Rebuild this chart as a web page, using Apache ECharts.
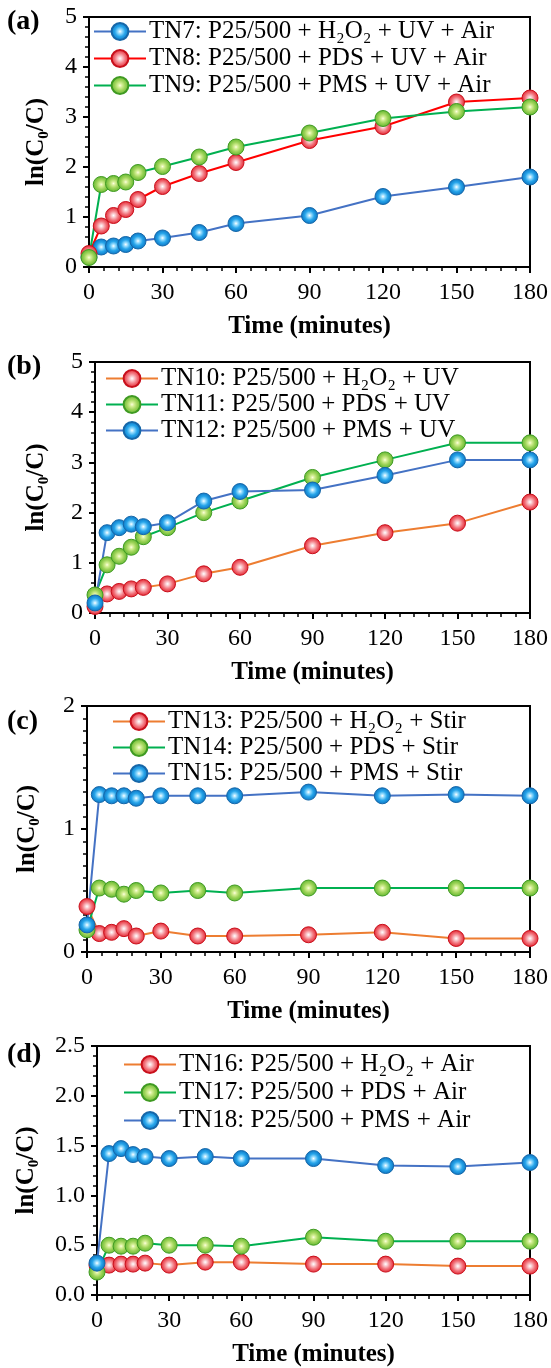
<!DOCTYPE html>
<html><head><meta charset="utf-8">
<script src="https://cdn.jsdelivr.net/npm/echarts@6/dist/echarts.min.js"></script>
<style>html,body{margin:0;padding:0;background:#fff}#c{width:551px;height:1368px}</style>
</head><body><div id="c"></div>
<script>
const times = [0, 5, 10, 15, 20, 30, 45, 60, 90, 120, 150, 180];
// Panel (a)
const tn7 = [0.20, 0.40, 0.42, 0.45, 0.52, 0.58, 0.69, 0.87, 1.03, 1.41, 1.60, 1.80];
const tn8 = [0.27, 0.82, 1.03, 1.15, 1.35, 1.61, 1.87, 2.09, 2.53, 2.81, 3.30, 3.38];
const tn9 = [0.19, 1.65, 1.67, 1.70, 1.89, 2.01, 2.20, 2.40, 2.68, 2.97, 3.11, 3.20];
// Panel (b)
const tn10 = [0.13, 0.38, 0.43, 0.48, 0.51, 0.58, 0.78, 0.91, 1.34, 1.60, 1.79, 2.21];
const tn11 = [0.36, 0.96, 1.13, 1.31, 1.52, 1.70, 2.00, 2.23, 2.70, 3.05, 3.39, 3.39];
const tn12 = [0.20, 1.60, 1.70, 1.77, 1.72, 1.80, 2.23, 2.42, 2.45, 2.74, 3.05, 3.05];
// Panel (c)
const tn13 = [0.37, 0.15, 0.16, 0.19, 0.13, 0.17, 0.13, 0.13, 0.14, 0.16, 0.11, 0.11];
const tn14 = [0.18, 0.52, 0.51, 0.47, 0.50, 0.48, 0.50, 0.48, 0.52, 0.52, 0.52, 0.52];
const tn15 = [0.22, 1.28, 1.27, 1.27, 1.25, 1.27, 1.27, 1.27, 1.30, 1.27, 1.28, 1.27];
// Panel (d)
const tn16 = [0.30, 0.30, 0.31, 0.31, 0.32, 0.30, 0.33, 0.33, 0.31, 0.31, 0.29, 0.29];
const tn17 = [0.23, 0.50, 0.49, 0.49, 0.52, 0.50, 0.50, 0.49, 0.58, 0.54, 0.54, 0.54];
const tn18 = [0.32, 1.42, 1.47, 1.41, 1.39, 1.37, 1.39, 1.37, 1.37, 1.30, 1.29, 1.33];

const namesA = ['TN7: P25/500 + H₂O₂ + UV + Air', 'TN8: P25/500 + PDS + UV + Air', 'TN9: P25/500 + PMS + UV + Air'];
const namesB = ['TN10: P25/500 + H₂O₂ + UV', 'TN11: P25/500 + PDS + UV', 'TN12: P25/500 + PMS + UV'];
const namesC = ['TN13: P25/500 + H₂O₂ + Stir', 'TN14: P25/500 + PDS + Stir', 'TN15: P25/500 + PMS + Stir'];
const namesD = ['TN16: P25/500 + H₂O₂ + Air', 'TN17: P25/500 + PDS + Air', 'TN18: P25/500 + PMS + Air'];
const panelLabels = ['(a)', '(b)', '(c)', '(d)'];
const xTitle = 'Time (minutes)';
const yTitle = 'ln(C₀/C)';

const FONT = '"Liberation Serif", "Times New Roman", serif';
function ball(kind) {
  const s = {
    blue: ['#ffffff', '#9fe0ff', '#27a5ea', '#0a72c0', '#1667a8'],
    red: ['#ffffff', '#fbd0d4', '#f27a82', '#e3202c', '#c8101c'],
    green: ['#fbffe0', '#d8f09a', '#9fd45a', '#5fb52e', '#3f9a22']
  }[kind];
  return {
    color: {type: 'radial', x: 0.5, y: 0.5, r: 0.5, colorStops: [
      {offset: 0, color: s[0]}, {offset: 0.2, color: s[1]}, {offset: 0.55, color: s[2]}, {offset: 1, color: s[3]}]},
    borderColor: s[4], borderWidth: 1
  };
}
const LINE = {blue: '#4472C4', red: '#FF0000', green: '#00B050', orange: '#ED7D31'};

const panels = [
  {top: 17, h: 250, left: 89, ymax: 5, yint: 1, ysplit: 5, dec: 0, gap: 40, names: namesA,
   data: [tn7, tn8, tn9], balls: ['blue', 'red', 'green'], lines: ['blue', 'red', 'green'],
   legLeft: 93, legTop: 19, legGap: 2, lab: [7, 25]},
  {top: 362, h: 251, left: 95, ymax: 5, yint: 1, ysplit: 5, dec: 0, gap: 46, names: namesB,
   data: [tn10, tn11, tn12], balls: ['red', 'green', 'blue'], lines: ['orange', 'green', 'blue'],
   legLeft: 105, legTop: 366, legGap: 1, lab: [7, 370]},
  {top: 706, h: 246, left: 87, ymax: 2, yint: 1, ysplit: 10, dec: 0, gap: 47, names: namesC,
   data: [tn13, tn14, tn15], balls: ['red', 'green', 'blue'], lines: ['orange', 'green', 'blue'],
   legLeft: 112, legTop: 709, legGap: 1, lab: [7, 725]},
  {top: 1046, h: 250, left: 97, ymax: 2.5, yint: 0.5, ysplit: 5, dec: 1, gap: 58, names: namesD,
   data: [tn16, tn17, tn18], balls: ['red', 'green', 'blue'], lines: ['orange', 'green', 'blue'],
   legLeft: 123, legTop: 1052, legGap: 3, lab: [7, 1058]}
];

const grid = [], xAxis = [], yAxis = [], series = [], legend = [], graphic = [];
panels.forEach((p, i) => {
  grid.push({left: p.left, right: 21, top: p.top, height: p.h, show: true, borderColor: '#000', borderWidth: 2, backgroundColor: 'transparent'});
  xAxis.push({type: 'value', gridIndex: i, min: 0, max: 180, interval: 30,
    name: xTitle, nameLocation: 'middle', nameGap: 47,
    nameTextStyle: {fontFamily: FONT, fontWeight: 'bold', fontSize: 25, color: '#000'},
    axisLine: {show: true, lineStyle: {color: '#000', width: 2}},
    axisTick: {show: true, length: 6, lineStyle: {color: '#000', width: 2}},
    minorTick: {show: true, splitNumber: 5, length: 4, lineStyle: {color: '#000', width: 1.5}},
    splitLine: {show: false},
    axisLabel: {fontFamily: FONT, fontSize: 24, color: '#000', margin: 14}});
  yAxis.push({type: 'value', gridIndex: i, min: 0, max: p.ymax, interval: p.yint,
    name: yTitle, nameLocation: 'middle', nameGap: p.gap, nameRotate: 90,
    nameTextStyle: {fontFamily: FONT, fontWeight: 'bold', fontSize: 25, color: '#000'},
    axisLine: {show: true, lineStyle: {color: '#000', width: 2}},
    axisTick: {show: true, length: 6, lineStyle: {color: '#000', width: 2}},
    minorTick: {show: true, splitNumber: p.ysplit, length: 4, lineStyle: {color: '#000', width: 1.5}},
    splitLine: {show: false},
    axisLabel: {fontFamily: FONT, fontSize: 24, color: '#000', margin: 12,
      formatter: v => p.dec ? v.toFixed(p.dec) : String(v)}});
  p.names.forEach((nm, k) => {
    series.push({type: 'line', name: nm, xAxisIndex: i, yAxisIndex: i,
      data: times.map((t, j) => [t, p.data[k][j]]),
      symbol: 'circle', symbolSize: 16,
      lineStyle: {color: LINE[p.lines[k]], width: 2},
      itemStyle: ball(p.balls[k]),
      emphasis: {disabled: true}, animation: false});
  });
  legend.push({data: p.names, orient: 'vertical', left: p.legLeft, top: p.legTop,
    itemWidth: 52, itemHeight: 21, itemGap: p.legGap, padding: 0,
    textStyle: {fontFamily: FONT, fontSize: 25, color: '#000', padding: [0, 0, 0, -2]}});
  graphic.push({type: 'text', left: p.lab[0], top: p.lab[1] - 17,
    style: {text: panelLabels[i], font: 'bold 28px "Liberation Serif", serif', fill: '#000'}});
});

const chart = echarts.init(document.getElementById('c'), null, {renderer: 'canvas'});
chart.setOption({animation: false, grid, xAxis, yAxis, series, legend, graphic});
</script></body></html>
